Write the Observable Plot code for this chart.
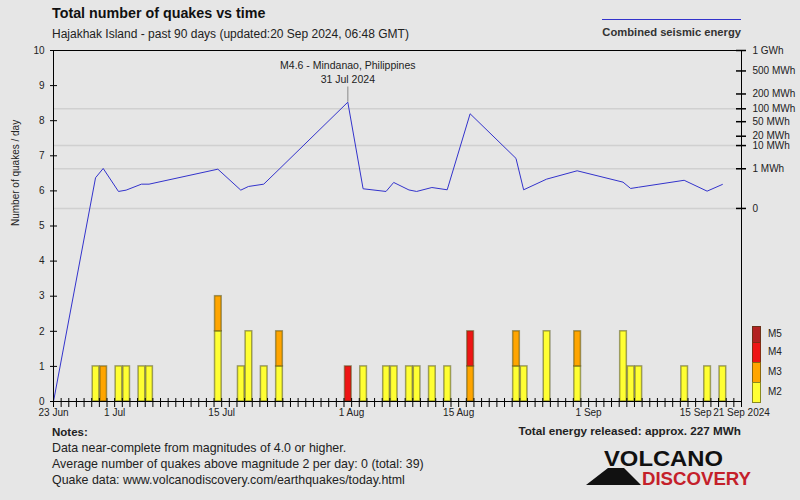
<!DOCTYPE html>
<html>
<head>
<meta charset="utf-8">
<script src="https://cdn.jsdelivr.net/npm/d3@7"></script>
<script src="https://cdn.jsdelivr.net/npm/@observablehq/plot@0.6"></script>
<style>
  body { margin: 0; background: #e6e6e6; }
  #wrap { position: relative; width: 800px; height: 500px; overflow: hidden; background: #e6e6e6;
          font-family: "Liberation Sans", Arial, sans-serif; color: #222; }
  .abs { position: absolute; white-space: nowrap; }
</style>
</head>
<body>
<div id="wrap">
  <div id="chart" class="abs" style="left:0;top:0"></div>
  <div class="abs" id="title" style="left:52px;top:3px;font-size:14.3px;font-weight:bold;line-height:20px;color:#111"></div>
  <div class="abs" id="subtitle" style="left:52px;top:26px;font-size:12px;line-height:16px"></div>
  <div class="abs" style="left:602px;top:19px;width:139px;height:0;border-top:1px solid #3333cc"></div>
  <div class="abs" id="energyLegend" style="right:59px;top:24px;font-size:11.2px;font-weight:bold;line-height:16px;color:#333"></div>
  <div class="abs" id="magLegend" style="left:752px;top:326px"></div>
  <div class="abs" id="notes" style="left:52px;top:424px;font-size:12.4px;line-height:16px"></div>
  <div class="abs" id="total" style="right:59px;top:423px;font-size:11.7px;font-weight:bold;line-height:16px;color:#222"></div>
  <svg class="abs" style="left:0;top:0" width="800" height="500" id="logo">
    <polygon points="586,485 608,468 624,468 641,485" fill="#111"></polygon>
    <text x="604" y="466" font-family="Liberation Sans, Arial, sans-serif" font-weight="bold" font-size="22" textLength="119" lengthAdjust="spacingAndGlyphs" fill="#111">VOLCANO</text>
    <text x="642" y="485" font-family="Liberation Sans, Arial, sans-serif" font-weight="bold" font-size="19" textLength="109" lengthAdjust="spacingAndGlyphs" fill="#c4202a">DISCOVERY</text>
  </svg>
</div>
<script>
// ---------- data ----------
const titleText = "Total number of quakes vs time";
const subtitleText = "Hajakhak Island - past 90 days (updated:20 Sep 2024, 06:48 GMT)";
const yAxisTitle = "Number of quakes / day";
const energyLegendText = "Combined seismic energy";
const totalText = "Total energy released: approx. 227 MWh";
const notesTitle = "Notes:";
const notesLines = [
  "Data near-complete from magnitudes of 4.0 or higher.",
  "Average number of quakes above magnitude 2 per day: 0 (total: 39)",
  "Quake data: www.volcanodiscovery.com/earthquakes/today.html"
];

const periodStart = "2024-06-23";
const periodEnd = "2024-09-21";

const quakeDays = ["2024-06-28","2024-06-29","2024-07-01","2024-07-02","2024-07-04","2024-07-05",
  "2024-07-14","2024-07-17","2024-07-18","2024-07-20","2024-07-22","2024-07-31","2024-08-02",
  "2024-08-05","2024-08-06","2024-08-08","2024-08-09","2024-08-11","2024-08-13","2024-08-16",
  "2024-08-22","2024-08-23","2024-08-26","2024-08-30","2024-09-05","2024-09-06","2024-09-07",
  "2024-09-13","2024-09-16","2024-09-18"];
const countM2 = [1,0,1,1,1,1, 2,1,2,1,1,0,1, 1,1,1,1,1,1,0, 1,1,2,1,2,1,1, 1,1,1];
const countM3 = [0,1,0,0,0,0, 1,0,0,0,1,0,0, 0,0,0,0,0,0,1, 1,0,0,1,0,0,0, 0,0,0];
const countM4 = [0,0,0,0,0,0, 0,0,0,0,0,1,0, 0,0,0,0,0,0,1, 0,0,0,0,0,0,0, 0,0,0];
const countM5 = [0,0,0,0,0,0, 0,0,0,0,0,0,0, 0,0,0,0,0,0,0, 0,0,0,0,0,0,0, 0,0,0];
// daily combined seismic energy, MWh
const energyMWh = [0.277,1.04,0.0144,0.021,0.086,0.086, 0.95,0.021,0.052,0.086,0.93,137.9,0.030,
  0.0144,0.121,0.022,0.0144,0.041,0.023,77.4, 3.2,0.023,0.22,0.77,0.128,0.0325,0.0435,
  0.18,0.0158,0.081];

const magLabels = ["M2","M3","M4","M5"];
const magColors = ["#ffff33","#ffa500","#ee1515","#b22222"];

const yTicks = [0,1,2,3,4,5,6,7,8,9,10];
const energyTickValues = [1000,500,200,100,50,20,10,1,0];
const energyTickLabels = ["1 GWh","500 MWh","200 MWh","100 MWh","50 MWh","20 MWh","10 MWh","1 MWh","0"];
const energyGridValues = [100,10,1,0];

const xTickDates = ["2024-06-23","2024-07-01","2024-07-15","2024-08-01","2024-08-15","2024-09-01","2024-09-15","2024-09-21"];
const xTickLabels = ["23 Jun","1 Jul","15 Jul","1 Aug","15 Aug","1 Sep","15 Sep","21 Sep 2024"];

const annotationDate = "2024-07-31";
const annotationText = "M4.6 - Mindanao, Philippines\n31 Jul 2024";

// ---------- build ----------
const parse = d3.utcParse("%Y-%m-%d");
const t0 = parse(periodStart), t1 = parse(periodEnd);
const allDays = d3.utcDay.range(t0, d3.utcDay.offset(t1, 1));
const midDay = d => d3.utcHour.offset(d, 12);

const counts = [countM2, countM3, countM4, countM5];
const barRows = [];
quakeDays.forEach((s, i) => {
  magLabels.forEach((m, k) => {
    if (counts[k][i] > 0) barRows.push({date: parse(s), mag: m, count: counts[k][i]});
  });
});

// energy axis: power scale (exponent 0.2) sharing the right side of the frame
const eScale = d3.scalePow().exponent(0.2).domain([0, 1000]).range([5.5, 10]);
const energyRows = [{x: t0, y: 0}].concat(quakeDays.map((s, i) => ({x: midDay(parse(s)), y: eScale(energyMWh[i])})));
const eLabelByPos = new Map(energyTickValues.map((v, i) => [eScale(v), energyTickLabels[i]]));
const xLabelByTime = new Map(xTickDates.map((s, i) => [+parse(s), xTickLabels[i]]));

const peakIdx = quakeDays.indexOf(annotationDate);
const peakX = midDay(parse(annotationDate));
const peakY = eScale(energyMWh[peakIdx]);
const annot = [{x: peakX, y1: peakY, y2: peakY + 0.43, text: annotationText}];

const chart = Plot.plot({
  width: 800,
  height: 500,
  marginLeft: 53,
  marginRight: 59,
  marginTop: 50,
  marginBottom: 99,
  style: {background: "transparent", fontFamily: "Liberation Sans, Arial, sans-serif", fontSize: "10px", color: "#222"},
  x: {type: "utc", domain: [t0, t1]},
  y: {domain: [0, 10]},
  color: {domain: magLabels, range: magColors},
  marks: [
    Plot.ruleY(energyGridValues, {y: d => eScale(d), stroke: "#d0d0d0", strokeWidth: 1.5}),
    Plot.rectY(barRows, {x: "date", y: "count", interval: "day", fill: "mag", order: magLabels,
      stroke: "#4a4a10", strokeOpacity: 0.5, strokeWidth: 1.5}),
    Plot.line(energyRows, {x: "x", y: "y", stroke: "#3333cc", strokeWidth: 1}),
    Plot.ruleX(annot, {x: "x", y1: "y1", y2: "y2", stroke: "#999", strokeWidth: 1.2}),
    Plot.text(annot, {x: "x", y: "y2", text: "text", lineAnchor: "bottom", dy: -4, fontSize: 10.5, lineHeight: 1.35, fill: "#222"}),
    Plot.frame({stroke: "#000", strokeWidth: 1}),
    // crossing tick marks
    Plot.ruleY(yTicks, {y: d => d, x1: () => t0, x2: () => t0, insetLeft: -3, insetRight: -4, stroke: "#000", strokeWidth: 1}),
    Plot.ruleY(energyTickValues, {y: d => eScale(d), x1: () => t1, x2: () => t1, insetLeft: -5, insetRight: -5, stroke: "#000", strokeWidth: 1.5}),
    Plot.ruleX(allDays, {x: d => d, y1: () => 0, y2: () => 0, insetTop: -3, insetBottom: -6, stroke: "#000", strokeWidth: 1}),
    // axis labels
    Plot.axisY({anchor: "left", ticks: yTicks, tickSize: 0, tickPadding: 9, label: null, fontSize: 10}),
    Plot.axisY({anchor: "right", ticks: energyTickValues.map(eScale), tickFormat: v => eLabelByPos.get(v), tickSize: 0, tickPadding: 11, label: null, fontSize: 10}),
    Plot.axisX({ticks: xTickDates.map(parse), tickFormat: d => xLabelByTime.get(+d), tickSize: 0, tickPadding: 7, label: null, fontSize: 10}),
    Plot.text([yAxisTitle], {frameAnchor: "left", rotate: -90, dx: -38, fontSize: 10, fill: "#222"})
  ]
});
document.getElementById("chart").appendChild(chart);

document.getElementById("title").textContent = titleText;
document.getElementById("subtitle").textContent = subtitleText;
document.getElementById("energyLegend").textContent = energyLegendText;
document.getElementById("total").textContent = totalText;
const notes = document.getElementById("notes");
const nt = document.createElement("div"); nt.textContent = notesTitle; nt.style.fontWeight = "bold"; nt.style.fontSize = "11.5px"; notes.appendChild(nt);
notesLines.forEach(l => { const d = document.createElement("div"); d.textContent = l; notes.appendChild(d); });

// magnitude legend (M5 at top)
const legend = document.getElementById("magLegend");
const legendHeights = {M5: 16, M4: 20, M3: 20, M2: 20};
magLabels.slice().reverse().forEach(m => {
  const row = document.createElement("div");
  row.style.cssText = "display:flex;align-items:center;height:" + legendHeights[m] + "px";
  const sw = document.createElement("div");
  sw.style.cssText = "width:7px;height:" + (legendHeights[m] - 1) + "px;border:0.5px solid rgba(60,60,20,0.6);background:" + magColors[magLabels.indexOf(m)];
  const lb = document.createElement("div");
  lb.textContent = m;
  lb.style.cssText = "margin-left:7px;font-size:10px;line-height:10px";
  row.appendChild(sw); row.appendChild(lb);
  legend.appendChild(row);
});
</script>
</body>
</html>
